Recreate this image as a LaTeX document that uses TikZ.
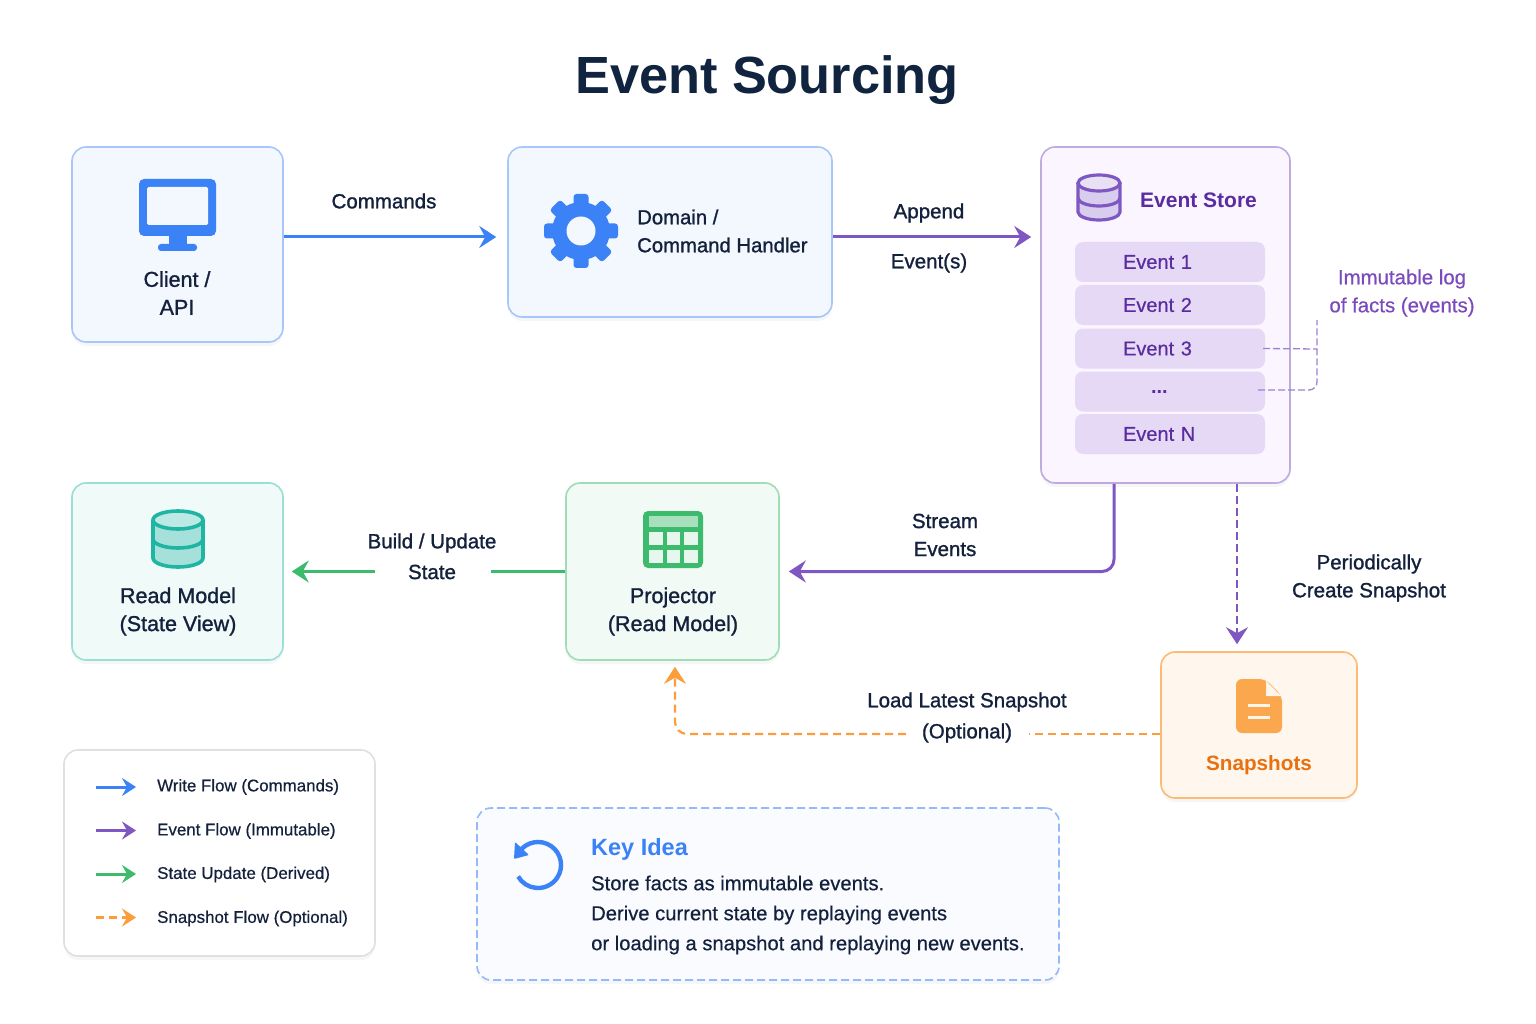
\documentclass[tikz,border=0pt]{standalone}
\usepackage{fontspec}
\setmainfont{Liberation Sans}
\newfontfamily\medfont[FakeBold=1.2]{Liberation Sans}
\newfontfamily\legendfont[FakeBold=0.5]{Liberation Sans}
\usetikzlibrary{arrows.meta,shadows}
\definecolor{ink}{HTML}{14213D}
\definecolor{titleink}{HTML}{10243F}
\definecolor{blueflow}{HTML}{3B82F6}
\definecolor{purpleflow}{HTML}{7E57C2}
\definecolor{greenflow}{HTML}{3DBB6C}
\definecolor{orangeflow}{HTML}{FB9D3A}
\definecolor{tealicon}{HTML}{1FB5A3}
\definecolor{storeink}{HTML}{5B2C9F}
\definecolor{noteink}{HTML}{7B4BBD}
\definecolor{storefill}{HTML}{E5D9F6}
\definecolor{storebg}{HTML}{FAF5FF}
\definecolor{snapink}{HTML}{E8700F}
\tikzset{
    box/.style={rectangle,rounded corners=14pt,line width=1.6pt,inner sep=0pt,
        drop shadow={opacity=.07,shadow xshift=0pt,shadow yshift=-4pt}},
    lbl/.style={font=\medfont\fontsize{20.5}{28}\selectfont,text=ink,align=center,inner sep=0pt},
    boxlbl/.style={lbl,font=\medfont\fontsize{21.5}{28}\selectfont},
    legendlbl/.style={font=\legendfont\fontsize{16.9}{20}\selectfont,text=ink,anchor=west,inner sep=0pt},
    eventrow/.style={rectangle,rounded corners=8pt,fill=storefill,minimum height=40pt,text width=190pt,
        inner sep=0pt,align=left,text=storeink,font=\legendfont\fontsize{20}{25}\selectfont},
    writeflow/.style={blueflow,line width=3pt},
    eventflow/.style={purpleflow,line width=3pt},
    stateflow/.style={greenflow,line width=3pt},
    snapflow/.style={orangeflow,line width=2.2pt,dash pattern=on 8pt off 5pt},
    eventdash/.style={purpleflow,line width=2.2pt,dash pattern=on 8pt off 4pt},
    notedash/.style={purpleflow!75,line width=1.3pt,dash pattern=on 7pt off 3pt},
    smalltip/.style={>={Stealth[length=14pt,width=18pt,inset=5pt]}},
}
\begin{document}
\begin{tikzpicture}[x=1pt,y=-1pt,>={Stealth[length=17pt,width=22pt,inset=6pt]}]
    \useasboundingbox (0,0) rectangle (1536,1024);
    \fill[white] (0,0) rectangle (1536,1024);

    \node[font=\bfseries\fontsize{52.3}{60}\selectfont,text=titleink,inner sep=0pt] at (767,80) (title) {Event Sourcing};

    \node[box,draw=blueflow!45,fill=blueflow!6,minimum width=211pt,minimum height=195pt] at (177.5,244.5) (client) {};
    \node[box,draw=blueflow!45,fill=blueflow!6,minimum width=324pt,minimum height=170pt] at (670,232) (domain) {};
    \node[box,draw=purpleflow!50,fill=storebg,minimum width=249pt,minimum height=336pt] at (1165.5,315) (store) {};
    \node[box,draw=tealicon!45,fill=tealicon!7,minimum width=211pt,minimum height=177pt] at (177.5,571.5) (readmodel) {};
    \node[box,draw=greenflow!50,fill=greenflow!7,minimum width=213pt,minimum height=177pt] at (672.5,571.5) (projector) {};
    \node[box,draw=orangeflow!70,fill=orangeflow!9,minimum width=196pt,minimum height=146pt] at (1259,725) (snapshots) {};
    \node[box,draw=black!12,fill=white,minimum width=311pt,minimum height=206pt] at (219.5,853) (legend) {};
    \node[box,draw=blueflow!55,fill=blueflow!3,dash pattern=on 8pt off 4pt,minimum width=582pt,minimum height=172pt] at (768,894) (keyidea) {};

    \node[boxlbl] at (177,293) (clientlbl) {Client /\\API};
    \node[lbl,anchor=west,align=left,font=\medfont\fontsize{20.3}{28}\selectfont] at (637,231) (domainlbl) {Domain /\\Command Handler};
    \node[boxlbl] at (178,611.5) (readlbl) {Read Model\\(State View)};
    \node[boxlbl] at (673,611.5) (projlbl) {Projector\\(Read Model)};
    \node[lbl,font=\bfseries\fontsize{20.7}{25}\selectfont,text=snapink] at (1259,765) (snaplbl) {Snapshots};
    \node[lbl,font=\bfseries\fontsize{21}{25}\selectfont,text=storeink,anchor=west] at (1140,200) (storelbl) {Event Store};

    \node[eventrow] at (1170,262) (ev1) {\hspace*{48pt}Event 1};
    \node[eventrow] at (1170,305) (ev2) {\hspace*{48pt}Event 2};
    \node[eventrow] at (1170,348.5) (ev3) {\hspace*{48pt}Event 3};
    \node[eventrow,font=\bfseries\fontsize{20}{25}\selectfont] at (1170,391.5) (evdots) {\hspace*{76pt}\raisebox{-3pt}{...}};
    \node[eventrow] at (1170,434) (evn) {\hspace*{48pt}Event N};

    \node[lbl,font=\legendfont\fontsize{20.4}{28}\selectfont,text=noteink] at (1402,293) (notelbl) {Immutable log\\of facts (events)};
    \node[lbl] at (384,201) (cmdlbl) {Commands};
    \node[lbl] at (929,213) (appendlbl) {Append};
    \node[lbl] at (929,263) (eventslbl) {Event(s)};
    \node[lbl] at (945,535) (streamlbl) {Stream\\Events};
    \node[lbl] at (1369,578) (periodlbl) {Periodically\\Create Snapshot};
    \node[lbl] at (432,543) (buildlbl) {Build / Update};
    \node[lbl] at (432,572) (statelbl) {State};
    \node[lbl] at (967,702) (loadlbl) {Load Latest Snapshot};
    \node[lbl] at (967,733) (optlbl) {(Optional)};

    \coordinate (stategapR) at (491,571.5);
    \coordinate (stategapL) at (375,571.5);
    \coordinate (optgapR) at (1029,734);
    \coordinate (optgapL) at (906,734);
    \coordinate (notetop) at (1317,320);
    \coordinate (notejoin) at (1317,349);

    \draw[writeflow,->] ([yshift=7.5pt]client.east) -- ([xshift=-11pt,yshift=-5pt]domain.west);
    \draw[eventflow,->] ([yshift=-5pt]domain.east) -- ([xshift=-9pt,yshift=78pt]store.west);
    \draw[eventflow,->,rounded corners=12pt] ([xshift=-51.5pt]store.south) |- ([xshift=9pt]projector.east);
    \draw[eventdash,->] ([xshift=71.5pt]store.south) -- ([xshift=-22pt,yshift=7pt]snapshots.north);
    \draw[stateflow] (projector.west) -- (stategapR);
    \draw[stateflow,->] (stategapL) -- ([xshift=8pt]readmodel.east);
    \draw[snapflow] ([yshift=-9pt]snapshots.west) -- (optgapR);
    \draw[snapflow,->,rounded corners=12pt] (optgapL) -| ([xshift=2.5pt,yshift=-6pt]projector.south);
    \draw[notedash] ([xshift=-2pt]ev3.east) -- (notejoin);
    \draw[notedash,rounded corners=8pt] ([xshift=-7pt,yshift=1.5pt]evdots.east) -| (notetop);

    \fill[blueflow,rounded corners=5pt] (139,179) rectangle (216,236);
    \fill[blueflow!6,rounded corners=1.5pt] (147,187) rectangle (208,225);
    \fill[blueflow] (169,234) rectangle (187,245);
    \fill[blueflow,rounded corners=3pt] (158,244) rectangle (197,251);

    \fill[blueflow,rounded corners=3pt] (573.5,194) rectangle (588.5,268);
    \fill[blueflow,rounded corners=3pt,rotate around={45:(581,231)}] (573.5,194) rectangle (588.5,268);
    \fill[blueflow,rounded corners=3pt,rotate around={90:(581,231)}] (573.5,194) rectangle (588.5,268);
    \fill[blueflow,rounded corners=3pt,rotate around={135:(581,231)}] (573.5,194) rectangle (588.5,268);
    \fill[blueflow] (581,231) circle[radius=29pt];
    \fill[blueflow!6] (581,231) circle[radius=14.5pt];

    \fill[purpleflow!30] (1078,183) -- (1078,212) arc[start angle=180,end angle=360,x radius=21pt,y radius=8pt] -- (1120,183) -- cycle;
    \draw[purpleflow,line width=3.2pt,fill=purpleflow!18] (1099,183) ellipse[x radius=21pt,y radius=8pt];
    \draw[purpleflow,line width=3.2pt] (1078,183) -- (1078,212) arc[start angle=180,end angle=360,x radius=21pt,y radius=8pt] -- (1120,183);
    \draw[purpleflow,line width=3.2pt] (1078,198) arc[start angle=180,end angle=360,x radius=21pt,y radius=8pt];

    \fill[tealicon!40] (153,520) -- (153,558) arc[start angle=180,end angle=360,x radius=25pt,y radius=9pt] -- (203,520) -- cycle;
    \draw[tealicon,line width=3.6pt,fill=tealicon!30] (178,520) ellipse[x radius=25pt,y radius=9pt];
    \draw[tealicon,line width=3.6pt] (153,520) -- (153,558) arc[start angle=180,end angle=360,x radius=25pt,y radius=9pt] -- (203,520);
    \draw[tealicon,line width=3.6pt] (153,539) arc[start angle=180,end angle=360,x radius=25pt,y radius=9pt];

    \fill[greenflow,rounded corners=5pt] (643,511) rectangle (703,568);
    \fill[greenflow!45] (649,516) rectangle (698,527);
    \fill[greenflow!12] (649,532) rectangle (663,545);
    \fill[greenflow!12] (667,532) rectangle (680,545);
    \fill[greenflow!12] (684,532) rectangle (698,545);
    \fill[greenflow!12] (649,550) rectangle (663,563);
    \fill[greenflow!12] (667,550) rectangle (680,563);
    \fill[greenflow!12] (684,550) rectangle (698,563);

    \fill[orangeflow!90,rounded corners=6pt] (1236,679) -- (1265,679) -- (1282,696) -- (1282,733) -- (1236,733) -- cycle;
    \fill[white!92!orange] (1266,681) -- (1281,696) -- (1266,696) -- cycle;
    \fill[white!92!orange] (1248,703.5) rectangle (1270,706.5);
    \fill[white!92!orange] (1248,715.5) rectangle (1270,718.5);

    \draw[blueflow,line width=4.4pt] (519.2,851.8) arc[start angle=145,end angle=-150,radius=23pt];
    \fill[blueflow,rounded corners=1pt] (515,842) -- (514,859) -- (529,855) -- cycle;

    \node[font=\bfseries\fontsize{23.5}{28}\selectfont,text=blueflow,anchor=west,inner sep=0pt] at (591,849) (keytitle) {Key Idea};
    \node[font=\legendfont\fontsize{20.2}{30}\selectfont,text=ink,anchor=west,align=left,inner sep=0pt] at (591,915) (keytext) {Store facts as immutable events.\\Derive current state by replaying events\\or loading a snapshot and replaying new events.};

    \node[legendlbl] at (157,787) (lgwrite) {Write Flow (Commands)};
    \node[legendlbl] at (157,831) (lgevent) {Event Flow (Immutable)};
    \node[legendlbl] at (157,874.5) (lgstate) {State Update (Derived)};
    \node[legendlbl] at (157,918.5) (lgsnap) {Snapshot Flow (Optional)};
    \coordinate (lgwritestart) at (96,787);
    \coordinate (lgeventstart) at (96,830.5);
    \coordinate (lgstatestart) at (96,874);
    \coordinate (lgsnapstart) at (96,917.5);
    \draw[writeflow,smalltip,->] (lgwritestart) -- ([xshift=-21pt]lgwrite.west);
    \draw[eventflow,smalltip,->] (lgeventstart) -- ([xshift=-21pt,yshift=.5pt]lgevent.west);
    \draw[stateflow,smalltip,->] (lgstatestart) -- ([xshift=-21pt,yshift=.5pt]lgstate.west);
    \draw[snapflow,smalltip,->] (lgsnapstart) -- ([xshift=-21pt,yshift=1pt]lgsnap.west);
  \end{tikzpicture}
\end{document}
